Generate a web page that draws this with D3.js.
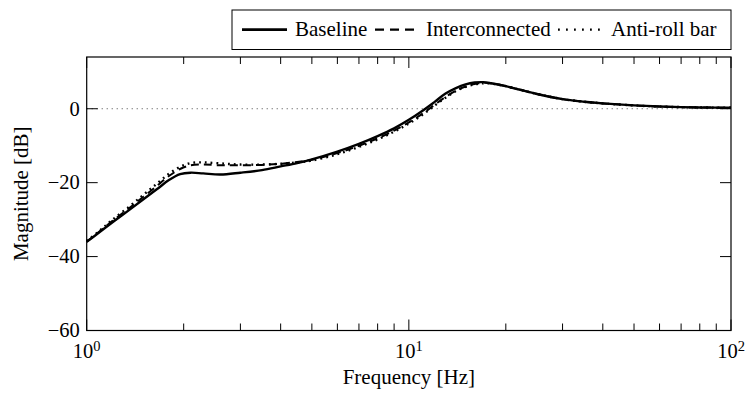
<!DOCTYPE html>
<html>
<head>
<meta charset="utf-8">
<script src="https://cdn.jsdelivr.net/npm/d3@7"></script>
<style>
  body { margin: 0; background: #fff; }
  svg text { font-family: 'Liberation Serif', 'Times New Roman', Times, 'DejaVu Serif', serif; }
</style>
</head>
<body>
<script>
var width = 746, height = 393;

// data
var freq = [1, 1.1, 1.2, 1.35, 1.5, 1.65, 1.8, 1.95, 2.1, 2.3, 2.6, 3, 3.5, 4, 4.5, 5, 6, 7, 8, 9, 10,
            11, 12, 13, 14, 15, 16, 17, 18, 20, 22, 25, 30, 35, 40, 50, 60, 70, 80, 90, 100];
var baseline = [-36, -33.3, -30.8, -27.5, -24.5, -21.8, -19.3, -17.7, -17.3, -17.5, -17.8, -17.3, -16.6, -15.6, -14.7, -13.7, -11.6, -9.5, -7.4, -5.3, -3.0,
            -0.6, 1.8, 4.1, 5.6, 6.6, 7.1, 7.2, 6.9, 6.1, 5.2, 4.0, 2.6, 1.9, 1.45, 0.9, 0.6, 0.45, 0.35, 0.3, 0.25];
var interconnected = [-36, -33.1, -30.4, -27.0, -23.8, -20.9, -18.2, -16.3, -15.3, -15.1, -15.3, -15.3, -15.2, -14.9, -14.4, -13.8, -12.0, -10.0, -8.0, -5.9, -3.7,
            -1.4, 1.0, 3.2, 4.9, 6.0, 6.7, 7.0, 6.9, 6.1, 5.2, 4.0, 2.6, 1.9, 1.45, 0.9, 0.6, 0.45, 0.35, 0.3, 0.25];
var antiroll = [-35.8, -32.9, -30.1, -26.6, -23.3, -20.3, -17.6, -15.7, -14.7, -14.5, -14.8, -15.1, -15.1, -14.9, -14.5, -14.0, -12.3, -10.3, -8.3, -6.2, -4.0,
            -1.7, 0.8, 3.0, 4.8, 5.9, 6.6, 6.9, 6.8, 6.1, 5.2, 4.0, 2.6, 1.9, 1.45, 0.9, 0.6, 0.45, 0.35, 0.3, 0.25];
var seriesNames = ["Baseline", "Interconnected", "Anti-roll bar"];
var yTicks = [0, -20, -40, -60];
var xTicks = [1, 10, 100];
var xTickExp = ["0", "1", "2"];

var margin = {left: 86.7, right: 15, top: 57, bottom: 62.5};
var x = d3.scaleLog().domain([1, 100]).range([margin.left, width - margin.right]);
var y = d3.scaleLinear().domain([-60, 14]).range([height - margin.bottom, margin.top]);
var fs = 20.5;

var styles = [
  {dash: null, w: 2.4, legendDash: null},
  {dash: "8,5", w: 2.0, legendDash: "9,6"},
  {dash: "1.8,4", w: 2.4, legendDash: "1.8,6.2"}
];

var svg = d3.select("body").append("svg")
    .attr("width", width)
    .attr("height", height);

var x0 = x.range()[0], x1 = x.range()[1], y0 = y.range()[0], y1 = y.range()[1];

// zero reference line
svg.append("line")
    .attr("x1", x0).attr("x2", x1)
    .attr("y1", y(0)).attr("y2", y(0))
    .attr("stroke", "#444").attr("stroke-width", 1)
    .attr("stroke-dasharray", "1,4");

// curves
var data = [baseline, interconnected, antiroll];
var line = d3.line()
    .x(function(d, i) { return x(freq[i]); })
    .y(function(d) { return y(d); })
    .curve(d3.curveCatmullRom);

var order = [2, 1, 0];
order.forEach(function(k) {
  svg.append("path")
    .attr("d", line(data[k]))
    .attr("fill", "none")
    .attr("stroke", "#000")
    .attr("stroke-width", styles[k].w)
    .attr("stroke-dasharray", styles[k].dash);
});

// ticks (inward, on all four sides)
var ticksG = svg.append("g").attr("stroke", "#000").attr("stroke-width", 1);
var minor = [];
[1, 10].forEach(function(dec) {
  for (var m = 2; m <= 9; m++) minor.push(dec * m);
});
minor.forEach(function(f) {
  ticksG.append("line").attr("x1", x(f)).attr("x2", x(f)).attr("y1", y0).attr("y2", y0 - 7);
  ticksG.append("line").attr("x1", x(f)).attr("x2", x(f)).attr("y1", y1).attr("y2", y1 + 7);
});
xTicks.forEach(function(f) {
  ticksG.append("line").attr("x1", x(f)).attr("x2", x(f)).attr("y1", y0).attr("y2", y0 - 11);
  ticksG.append("line").attr("x1", x(f)).attr("x2", x(f)).attr("y1", y1).attr("y2", y1 + 11);
});
yTicks.forEach(function(v) {
  ticksG.append("line").attr("x1", x0).attr("x2", x0 + 11).attr("y1", y(v)).attr("y2", y(v));
  ticksG.append("line").attr("x1", x1).attr("x2", x1 - 11).attr("y1", y(v)).attr("y2", y(v));
});

// frame
svg.append("rect")
    .attr("x", x0).attr("y", y1)
    .attr("width", x1 - x0).attr("height", y0 - y1)
    .attr("fill", "none").attr("stroke", "#000").attr("stroke-width", 1.2);

// y tick labels
svg.selectAll(".ylab").data(yTicks).enter().append("text")
    .attr("x", x0 - 7)
    .attr("y", function(d) { return y(d) + 6.8; })
    .attr("text-anchor", "end")
    .attr("font-size", fs)
    .text(function(d) { return d < 0 ? "\u2212" + Math.abs(d) : d; });

// x tick labels 10^n
xTicks.forEach(function(f, i) {
  var t = svg.append("text")
      .attr("x", x(f))
      .attr("y", 358)
      .attr("text-anchor", "middle")
      .attr("font-size", fs);
  t.append("tspan").text("10");
  t.append("tspan").attr("font-size", 14.5).attr("dy", -7.5).text(xTickExp[i]);
});

// axis titles
svg.append("text")
    .attr("x", (x0 + x1) / 2).attr("y", 384)
    .attr("text-anchor", "middle")
    .attr("font-size", 21)
    .text("Frequency [Hz]");

svg.append("text")
    .attr("transform", "translate(27.5," + (y0 + y1) / 2 + ") rotate(-90)")
    .attr("text-anchor", "middle")
    .attr("font-size", 21)
    .text("Magnitude [dB]");

// legend
var legend = svg.append("g");
legend.append("rect")
    .attr("x", 232).attr("y", 10)
    .attr("width", 499).attr("height", 39.5)
    .attr("fill", "#fff").attr("stroke", "#000").attr("stroke-width", 1);
var sampleX = [242, 375, 558], sampleLen = [45, 39, 44], labelX = [295, 426, 611];
var ly = 29.6;
seriesNames.forEach(function(name, k) {
  legend.append("line")
    .attr("x1", sampleX[k]).attr("x2", sampleX[k] + sampleLen[k])
    .attr("y1", ly).attr("y2", ly)
    .attr("stroke", "#000")
    .attr("stroke-width", k == 0 ? 2.6 : 2.2)
    .attr("stroke-dasharray", styles[k].legendDash);
  legend.append("text")
    .attr("x", labelX[k]).attr("y", 36.3)
    .attr("font-size", 21)
    .text(name);
});
</script>
</body>
</html>
